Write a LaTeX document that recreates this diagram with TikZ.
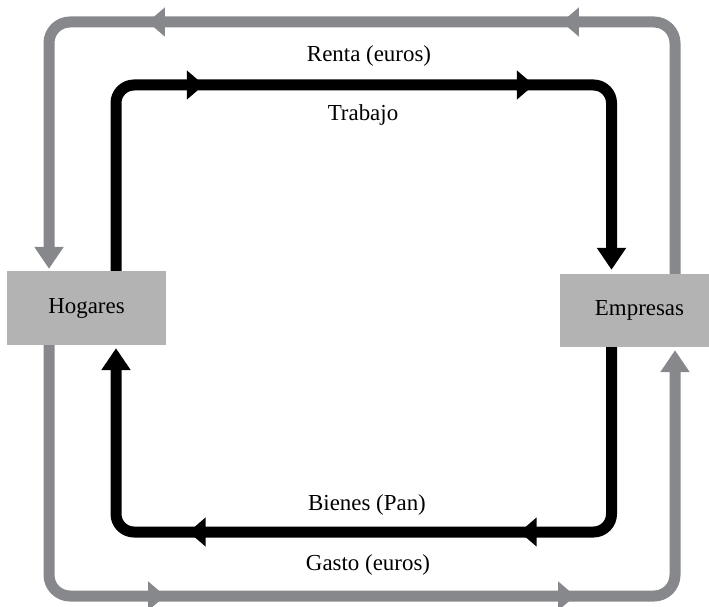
\documentclass[tikz,border=0pt]{standalone}
\usepackage{fontspec}
\setmainfont{Liberation Serif}
\usetikzlibrary{arrows.meta,decorations.markings}
\definecolor{flowgray}{RGB}{135,136,140}
\definecolor{boxgray}{RGB}{179,179,179}
\begin{document}
\begin{tikzpicture}[x=1bp,y=-1bp,
  agent/.style={fill=boxgray, draw=none, minimum width=159bp, minimum height=74bp, inner sep=0pt, font=\fontsize{23}{27}\selectfont},
  lbl/.style={font=\fontsize{23}{27}\selectfont, inner sep=0pt, anchor=base},
  grayflow/.style={draw=flowgray, line width=11bp, rounded corners=21bp, -{Triangle[length=22bp,width=28bp]}},
  blackflow/.style={draw=black, line width=11bp, rounded corners=18bp, -{Triangle[length=22bp,width=28bp]}},
  midarrows/.style 2 args={postaction={decorate}, decoration={markings,
      mark=at position #1 with {\arrow{Triangle[length=17bp,width=28bp]}},
      mark=at position #2 with {\arrow{Triangle[length=17bp,width=28bp]}}}},
]
\useasboundingbox (0,0) rectangle (709,607);
\node[agent] (H) at (86.5,308) {Hogares};
\node[agent, minimum height=73bp] (E) at (639.5,310.5) {Empresas};
\coordinate (gL) at (49,0);
\coordinate (gR) at (675,0);
\coordinate (bL) at (116,0);
\coordinate (bR) at (611.5,0);
% gray flows (money)
\draw[grayflow, shorten >=2bp, midarrows={356bp}{770bp}] (E.north -| gR) -- (675,22) -- (49,22) -- (H.north -| gL);
\draw[grayflow, shorten >=3bp, midarrows={358bp}{768bp}] (H.south -| gL) -- (49,596) -- (675,596) -- (E.south -| gR);
% black flows (real)
\draw[blackflow, shorten >=4bp, midarrows={266bp}{596bp}] (H.north -| bL) -- (116,85) -- (611.5,85) -- (E.north -| bR);
\draw[blackflow, shorten >=3bp, midarrows={269bp}{600bp}] (E.south -| bR) -- (611.5,532) -- (116,532) -- (H.south -| bL);
% labels
\node[lbl] (renta) at (369,61.7) {Renta (euros)};
\node[lbl] (trabajo) at (363,120.7) {Trabajo};
\node[lbl] (bienes) at (367,510.7) {Bienes (Pan)};
\node[lbl] (gasto) at (368,570.7) {Gasto (euros)};
\end{tikzpicture}
\end{document}
